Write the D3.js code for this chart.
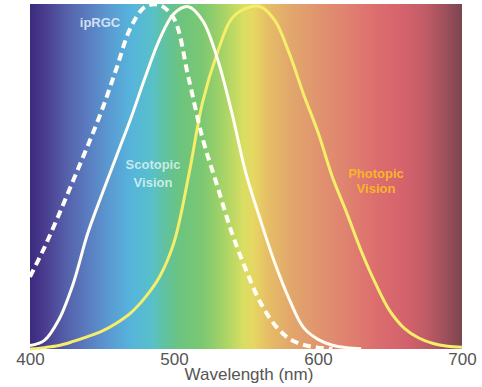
<!DOCTYPE html>
<html>
<head>
<meta charset="utf-8">
<script src="https://cdn.jsdelivr.net/npm/d3@7"></script>
<style>
  html, body { margin: 0; padding: 0; background: #ffffff; }
  svg { display: block; }
</style>
</head>
<body>
<svg id="chart" width="482" height="387"></svg>
<script>
// Relative spectral sensitivity (peak = 1) sampled every 10 nm
const wavelengths = [400,410,420,430,440,450,460,470,480,490,500,510,520,530,540,550,560,570,580,590,600,610,620,630,640,650,660,670,680,690,700];

const ipRGC = [0.21,0.295,0.39,0.49,0.59,0.695,0.815,0.935,0.995,1.0,0.96,0.79,0.61,0.475,0.34,0.23,0.135,0.07,0.03,0.012,0.004,0.0,null,null,null,null,null,null,null,null,null];

const scotopic = [0.01,0.025,0.085,0.19,0.335,0.45,0.56,0.67,0.79,0.90,0.975,0.995,0.954,0.846,0.69,0.51,0.375,0.25,0.145,0.062,0.028,0.011,0.004,0.001,null,null,null,null,null,null,null];

const photopic = [0.0,0.004,0.01,0.022,0.036,0.052,0.075,0.105,0.15,0.21,0.31,0.50,0.72,0.86,0.96,0.99,0.995,0.955,0.86,0.74,0.63,0.50,0.395,0.285,0.19,0.11,0.06,0.032,0.016,0.008,0.005];

const xTicks = [400, 500, 600, 700];

// Visible-spectrum backdrop, colour at each wavelength
const spectrumNm = [400,410,425,440,455,470,485,495,505,520,535,548,555,565,580,600,620,640,660,675,690,700];
const spectrumColor = ["#3b2a7e","#4a3c8e","#5560aa","#5a7cc0","#5a9ad2","#56b4dc","#58c0c8","#62c29a","#6cc47e","#7cc872","#a8d466","#d8de62","#e6d862","#e6be66","#e2a86c","#e0946e","#e08270","#dc6e6e","#d4626c","#c05c66","#9a4e5a","#7a4650"];

const svg = d3.select("#chart");
const plot = { left: 30, right: 462, top: 4, bottom: 349 };

const x = d3.scaleLinear().domain([400, 700]).range([plot.left, plot.right]);
const y = d3.scaleLinear().domain([0, 1]).range([plot.bottom, plot.top + 1]);

const defs = svg.append("defs");
const grad = defs.append("linearGradient")
  .attr("id", "spectrum")
  .attr("gradientUnits", "userSpaceOnUse")
  .attr("x1", x(400)).attr("x2", x(700))
  .attr("y1", 0).attr("y2", 0);
grad.selectAll("stop")
  .data(spectrumNm)
  .join("stop")
  .attr("offset", d => (d - 400) / 300)
  .attr("stop-color", (d, i) => spectrumColor[i]);

svg.append("rect")
  .attr("x", x(400)).attr("y", plot.top)
  .attr("width", x(700) - x(400))
  .attr("height", plot.bottom - plot.top)
  .attr("fill", "url(#spectrum)");

const line = series => d3.line()
  .defined((d, i) => series[i] !== null)
  .x(d => x(d))
  .y((d, i) => y(series[i]))
  .curve(d3.curveCatmullRom.alpha(0.5));

// Photopic (cones)
svg.append("path")
  .attr("d", line(photopic)(wavelengths))
  .attr("fill", "none")
  .attr("stroke", "#f4ee6a")
  .attr("stroke-width", 3);

// Scotopic (rods)
svg.append("path")
  .attr("d", line(scotopic)(wavelengths))
  .attr("fill", "none")
  .attr("stroke", "#fffdf2")
  .attr("stroke-width", 3);

// ipRGC (melanopsin)
svg.append("path")
  .attr("d", line(ipRGC)(wavelengths))
  .attr("fill", "none")
  .attr("stroke", "#fffdf6")
  .attr("stroke-width", 4)
  .attr("stroke-dasharray", "8,5");

// Curve labels
const labelFont = "'Liberation Sans', Arial, sans-serif";
svg.append("text")
  .attr("x", 100).attr("y", 27)
  .attr("text-anchor", "middle")
  .attr("font-family", labelFont).attr("font-weight", "bold").attr("font-size", 13)
  .attr("fill", "#e4ecfa").attr("fill-opacity", 0.9)
  .text("ipRGC");

const scot = svg.append("text")
  .attr("text-anchor", "middle")
  .attr("font-family", labelFont).attr("font-weight", "bold").attr("font-size", 13)
  .attr("fill", "#dcf4f2").attr("fill-opacity", 0.85);
scot.append("tspan").attr("x", 153).attr("y", 169).text("Scotopic");
scot.append("tspan").attr("x", 153).attr("y", 187).text("Vision");

const phot = svg.append("text")
  .attr("text-anchor", "middle")
  .attr("font-family", labelFont).attr("font-weight", "bold").attr("font-size", 13)
  .attr("fill", "#f8b42c");
phot.append("tspan").attr("x", 376).attr("y", 178).text("Photopic");
phot.append("tspan").attr("x", 376).attr("y", 193).text("Vision");

// Wavelength axis
const axis = svg.append("g")
  .attr("transform", `translate(0,${plot.bottom})`)
  .call(d3.axisBottom(x).tickValues(xTicks).tickSize(0).tickPadding(4).tickFormat(d3.format("d")));
axis.select(".domain").remove();
axis.selectAll("text")
  .attr("font-family", labelFont)
  .attr("font-size", 17)
  .attr("fill", "#555555");

svg.append("text")
  .attr("x", 249).attr("y", 380)
  .attr("text-anchor", "middle")
  .attr("font-family", labelFont)
  .attr("font-size", 17)
  .attr("fill", "#555555")
  .text("Wavelength (nm)");
</script>
</body>
</html>
